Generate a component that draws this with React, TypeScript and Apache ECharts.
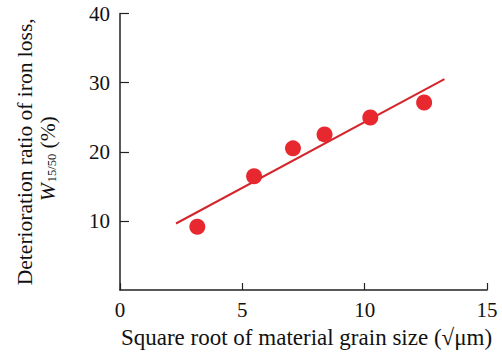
import React, { useEffect, useRef } from "react";
import * as echarts from "echarts";

const grainX = [3.16, 5.48, 7.07, 8.36, 10.23, 12.43];
const ratioY = [9.15, 16.45, 20.49, 22.51, 24.96, 27.13];
const fitX = [2.29, 13.26];
const fitY = [9.62, 30.5];

const FONT = "Liberation Serif";

export default function App() {
  const ref = useRef<HTMLDivElement>(null);
  useEffect(() => {
    const chart = echarts.init(ref.current!, null, { renderer: "svg" });
    chart.setOption({
      animation: false,
      grid: { left: 120, right: 15, top: 13.5, bottom: 63.3 },
      xAxis: {
        type: "value",
        min: 0,
        max: 15,
        interval: 5,
        name: "Square root of material grain size (\u221A\u03BCm)",
        nameLocation: "middle",
        nameGap: 36,
        nameTextStyle: { fontFamily: FONT, fontSize: 23, color: "#111", padding: [0, 0, 0, 6] },
        axisLine: { lineStyle: { color: "#222", width: 1.5 } },
        axisTick: { inside: true, length: 7, lineStyle: { color: "#222", width: 1.2 } },
        axisLabel: { fontFamily: FONT, fontSize: 21, color: "#111", margin: 9 },
        splitLine: { show: false },
      },
      yAxis: {
        type: "value",
        min: 0,
        max: 40,
        interval: 10,
        name: "Deterioration ratio of iron loss,\n{w|W}{sub|15/50}{n| (%)}",
        nameLocation: "middle",
        nameRotate: 90,
        nameGap: 61,
        nameTextStyle: {
          fontFamily: FONT,
          fontSize: 21.5,
          color: "#111",
          lineHeight: 23,
          rich: {
            w: { fontFamily: FONT, fontSize: 21.5, fontStyle: "italic", color: "#111", lineHeight: 23 },
            sub: { fontFamily: FONT, fontSize: 12.5, color: "#111", verticalAlign: "bottom", lineHeight: 23, padding: [0, 0, 1, 1] },
            n: { fontFamily: FONT, fontSize: 21.5, color: "#111", lineHeight: 23, padding: [0, 14, 0, 0] },
          },
        },
        axisLine: { show: true, lineStyle: { color: "#222", width: 1.5 } },
        axisTick: { show: true, inside: true, length: 9, lineStyle: { color: "#222", width: 1.2 } },
        axisLabel: { fontFamily: FONT, fontSize: 21, color: "#111", margin: 10, showMinLabel: false },
        splitLine: { show: false },
      },
      series: [
        {
          type: "line",
          data: fitX.map((x, i) => [x, fitY[i]]),
          showSymbol: false,
          lineStyle: { color: "#d3262c", width: 2 },
          z: 2,
        },
        {
          type: "scatter",
          data: grainX.map((x, i) => [x, ratioY[i]]),
          symbolSize: 16,
          itemStyle: { color: "#e8282f", opacity: 1 },
          z: 3,
        },
      ],
    });
    return () => chart.dispose();
  }, []);
  return <div ref={ref} style={{ width: 502, height: 354, position: "absolute", left: 0, top: 0, background: "#fff" }} />;
}
